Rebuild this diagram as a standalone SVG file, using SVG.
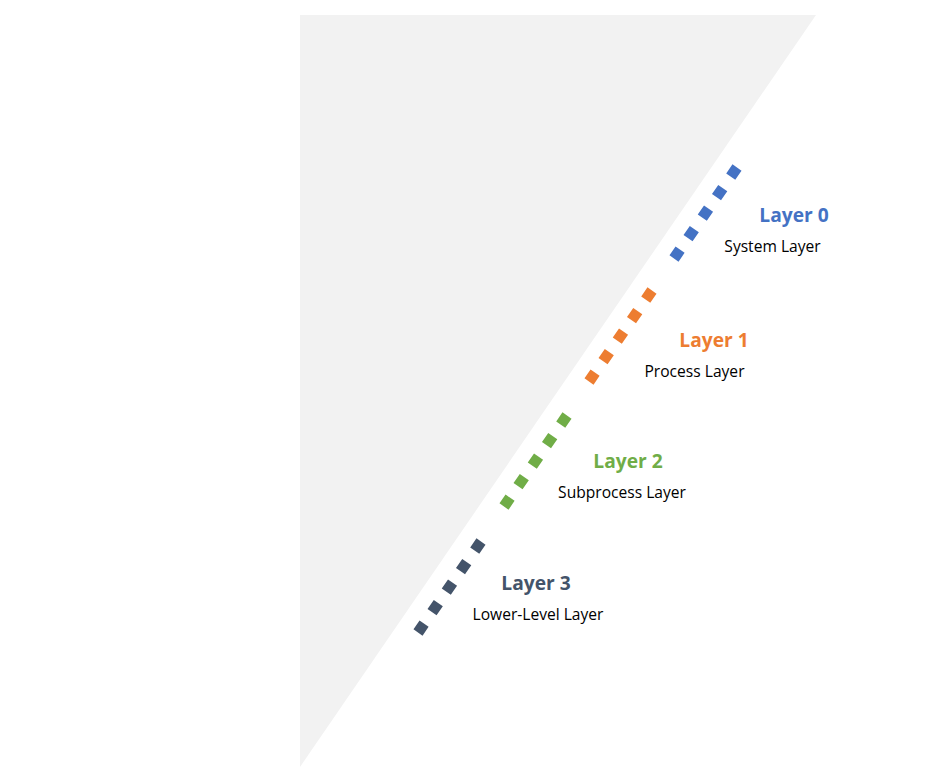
<svg xmlns="http://www.w3.org/2000/svg" width="931" height="783" viewBox="0 0 931 783">
<style>
.t{font-family:"Open Sans","Noto Sans","Liberation Sans",sans-serif;text-anchor:middle}
.h{font-size:19.2px;font-weight:bold}
.s{font-size:15.6px;fill:#000}
.d{fill:none;stroke-width:11;stroke-dasharray:11 14}
</style>
<rect width="931" height="783" fill="#fff"/>
<polygon id="triangle" points="300,15 816,15 300,767" fill="#F2F2F2"/>
<g id="connectors">
<line class="d" stroke="#4472C4" x1="737" y1="167.5" x2="674" y2="258.5"/>
<line class="d" stroke="#ED7D31" x1="652" y1="290.5" x2="589" y2="381.5"/>
<line class="d" stroke="#70AD47" x1="567" y1="415.5" x2="504" y2="506.5"/>
<line class="d" stroke="#44546A" x1="481" y1="541.5" x2="418" y2="632.5"/>
</g>
<g id="layer0"><text class="t h" x="794" y="222" fill="#4472C4">Layer 0</text><text class="t s" x="772.5" y="252">System Layer</text></g>
<g id="layer1"><text class="t h" x="714" y="347" fill="#ED7D31">Layer 1</text><text class="t s" x="694.5" y="377">Process Layer</text></g>
<g id="layer2"><text class="t h" x="628" y="468" fill="#70AD47">Layer 2</text><text class="t s" x="622" y="498">Subprocess Layer</text></g>
<g id="layer3"><text class="t h" x="536" y="590" fill="#44546A">Layer 3</text><text class="t s" x="538" y="620">Lower-Level Layer</text></g>
</svg>
